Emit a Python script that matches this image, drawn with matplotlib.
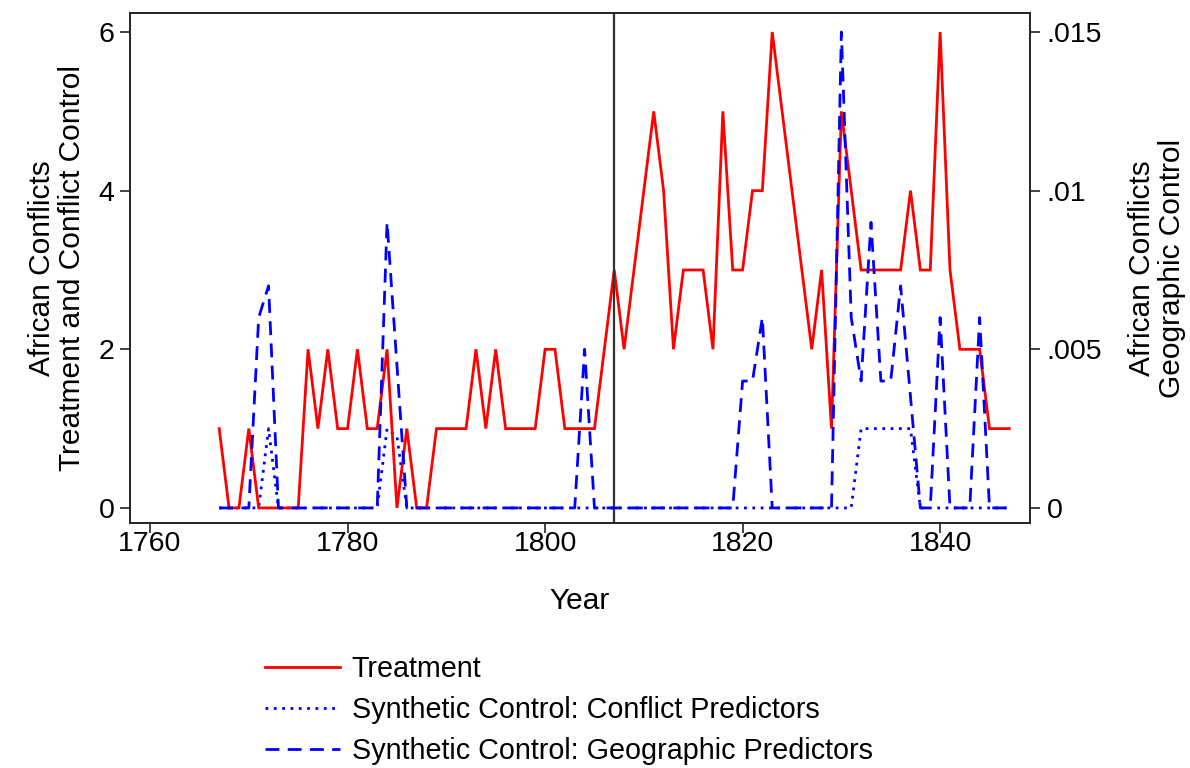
import matplotlib
matplotlib.use("Agg")
import matplotlib.pyplot as plt
from matplotlib.ticker import FixedLocator, FixedFormatter
from matplotlib.lines import Line2D

# ---------------- data ----------------
years = list(range(1767, 1848))

treatment = [
    1, 0, 0, 1, 0, 0, 0, 0, 0, 2,        # 1767-1776
    1, 2, 1, 1, 2, 1, 1, 2, 0, 1,        # 1777-1786
    0, 0, 1, 1, 1, 1, 2, 1, 2, 1,        # 1787-1796
    1, 1, 1, 2, 2, 1, 1, 1, 1, 2,        # 1797-1806
    3, 2, 3, 4, 5, 4, 2, 3, 3, 3,        # 1807-1816
    2, 5, 3, 3, 4, 4, 6, 5, 4, 3,        # 1817-1826
    2, 3, 1, 5, 4, 3, 3, 3, 3, 3,        # 1827-1836
    4, 3, 3, 6, 3, 2, 2, 2, 1, 1,        # 1837-1846
    1,                                   # 1847
]

conflict_control = [
    0, 0, 0, 0, 0, 1, 0, 0, 0, 0,        # 1767-1776
    0, 0, 0, 0, 0, 0, 0, 1, 0.9, 0,      # 1777-1786
    0, 0, 0, 0, 0, 0, 0, 0, 0, 0,        # 1787-1796
    0, 0, 0, 0, 0, 0, 0, 0, 0, 0,        # 1797-1806
    0, 0, 0, 0, 0, 0, 0, 0, 0, 0,        # 1807-1816
    0, 0, 0, 0, 0, 0, 0, 0, 0, 0,        # 1817-1826
    0, 0, 0, 0, 0, 1, 1, 1, 1, 1,        # 1827-1836
    1, 0, 0, 0, 0, 0, 0, 0, 0, 0,        # 1837-1846
    0,                                   # 1847
]

geographic_control = [
    0, 0, 0, 0, 0.006, 0.007, 0, 0, 0, 0,          # 1767-1776
    0, 0, 0, 0, 0, 0, 0, 0.009, 0.0045, 0,         # 1777-1786
    0, 0, 0, 0, 0, 0, 0, 0, 0, 0,                  # 1787-1796
    0, 0, 0, 0, 0, 0, 0, 0.005, 0, 0,              # 1797-1806
    0, 0, 0, 0, 0, 0, 0, 0, 0, 0,                  # 1807-1816
    0, 0, 0, 0.004, 0.004, 0.006, 0, 0, 0, 0,      # 1817-1826
    0, 0, 0, 0.015, 0.006, 0.004, 0.009, 0.004, 0.004, 0.007,  # 1827-1836
    0.0035, 0, 0, 0.006, 0, 0, 0, 0.006, 0, 0,    # 1837-1846
    0,                                             # 1847
]

treatment_year = 1807
x_ticks = [1760, 1780, 1800, 1820, 1840]
left_ticks = [0, 2, 4, 6]
left_tick_labels = ["0", "2", "4", "6"]
right_ticks = [0, 0.005, 0.01, 0.015]
right_tick_labels = ["0", ".005", ".01", ".015"]

label_treat = "Treatment"
label_conf = "Synthetic Control: Conflict Predictors"
label_geo = "Synthetic Control: Geographic Predictors"

# ---------------- style ----------------
plt.rcParams['font.family'] = ['Liberation Sans', 'DejaVu Sans']
FS = 20.5

W, H = 1190, 768
fig = plt.figure(figsize=(W / 100, H / 100), dpi=100)
L, R, T, B = 130, 1030, 13, 523
ax = fig.add_axes([L / W, 1 - B / H, (R - L) / W, (B - T) / H])

ylim_left = (-0.19, 6.24)
scale = 400.0  # left units per right unit
ax.set_xlim(1757.97, 1849.1)
ax.set_ylim(*ylim_left)

red = '#ff0000'
blue = '#0000ff'
lw = 2.0

ax.plot(years, treatment, color=red, lw=lw, solid_joinstyle='miter', zorder=3)
ax.plot(years, conflict_control, color=blue, lw=lw, linestyle=(0, (1, 2)), zorder=2)
ax.axvline(treatment_year, color='#333333', lw=1.6, zorder=4)

ax2 = ax.twinx()
ax2.set_ylim(ylim_left[0] / scale, ylim_left[1] / scale)
ax2.plot(years, geographic_control, color=blue, lw=lw, linestyle=(0, (5, 3)), zorder=2)

# ticks
for a in (ax, ax2):
    for s in a.spines.values():
        s.set_linewidth(1.2)
        s.set_color('#222222')
ax.xaxis.set_major_locator(FixedLocator(x_ticks))
ax.yaxis.set_major_locator(FixedLocator(left_ticks))
ax.yaxis.set_major_formatter(FixedFormatter(left_tick_labels))
ax2.yaxis.set_major_locator(FixedLocator(right_ticks))
ax2.yaxis.set_major_formatter(FixedFormatter(right_tick_labels))
ax.tick_params(axis='y', direction='out', length=7, width=1.2, labelsize=FS, pad=4, color='#222222')
ax.tick_params(axis='x', direction='out', length=7, width=1.2, labelsize=FS, pad=-1, color='#222222')
ax2.tick_params(axis='y', direction='out', length=7, width=1.2, labelsize=FS, pad=5, color='#222222')

ax.set_xlabel("Year", fontsize=FS + 1, va='center')
ax.xaxis.set_label_coords(0.5, (B - 601) / (B - T))
ax.set_ylabel("African Conflicts\nTreatment and Conflict Control", fontsize=FS + 1,
              va='center', ha='center', linespacing=1.12)
ax.yaxis.set_label_coords((57 - L) / (R - L), 0.5)
ax2.set_ylabel("African Conflicts\nGeographic Control", fontsize=FS + 1,
               va='center', ha='center', rotation=90, linespacing=1.12)
ax2.yaxis.set_label_coords((1157 - L) / (R - L), 0.5)

handles = [
    Line2D([], [], color=red, lw=lw),
    Line2D([], [], color=blue, lw=lw, linestyle=(0, (1, 2))),
    Line2D([], [], color=blue, lw=lw, linestyle=(0, (5, 3))),
]
fig.legend(handles, [label_treat, label_conf, label_geo], loc='upper left',
           bbox_to_anchor=(265 / W, 1 - 655 / H), frameon=False, fontsize=FS + 0.2,
           handlelength=2.6, handletextpad=0.42, labelspacing=0.45,
           borderaxespad=0, borderpad=0)

fig.savefig("out.png", dpi=100, facecolor='white')
